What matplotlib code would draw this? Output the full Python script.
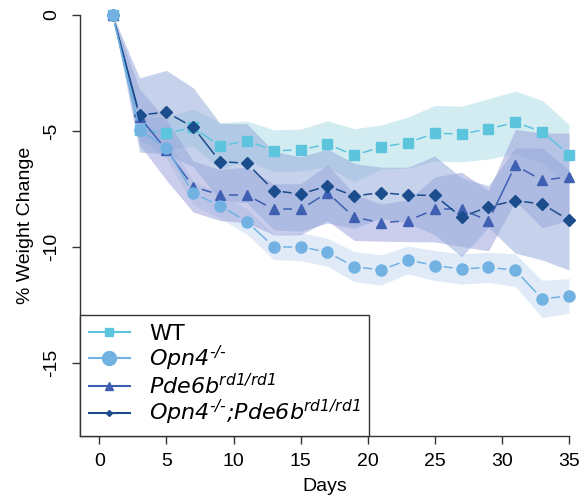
import numpy as np
import matplotlib
matplotlib.use('Agg')
import matplotlib.pyplot as plt
from matplotlib.collections import LineCollection
from matplotlib.lines import Line2D

plt.rcParams['font.family'] = ['Liberation Sans', 'DejaVu Sans']
plt.rcParams['mathtext.fontset'] = 'custom'
plt.rcParams['mathtext.rm'] = 'DejaVu Sans:italic'
plt.rcParams['mathtext.it'] = 'DejaVu Sans:italic'

# data (mean % weight change and s.e.m.)
days = [1, 3, 5, 7, 9, 11, 13, 15, 17, 19, 21, 23, 25, 27, 29, 31, 33, 35]
wt = [0, -4.95, -5.09, -4.85, -5.65, -5.42, -5.85, -5.82, -5.56, -6.05,
      -5.69, -5.5, -5.1, -5.13, -4.91, -4.63, -5.03, -6.02]
wt_sem = [0, 0.5, 0.7, 0.8, 1.0, 0.85, 0.9, 0.9, 1.0, 1.15,
          0.95, 1.1, 1.2, 1.2, 1.3, 1.35, 1.35, 1.3]
opn4 = [0, -4.96, -5.72, -7.69, -8.22, -8.91, -9.99, -9.99, -10.23, -10.85,
        -10.99, -10.56, -10.8, -10.95, -10.88, -11.0, -12.24, -12.11]
opn4_sem = [0, 0.4, 0.45, 0.5, 0.55, 0.55, 0.55, 0.6, 0.6, 0.65,
            0.65, 0.6, 0.65, 0.65, 0.65, 0.7, 0.8, 0.75]
pde = [0, -4.4, -5.82, -7.4, -7.76, -7.76, -8.38, -8.38, -7.66, -8.72,
       -8.95, -8.87, -8.38, -8.38, -8.87, -6.48, -7.13, -6.97]
pde_sem = [0, 1.2, 1.3, 1.1, 1.1, 1.2, 1.1, 1.1, 1.2, 1.0,
           0.8, 0.9, 1.4, 1.6, 1.3, 1.55, 2.04, 1.88]
dko = [0, -4.31, -4.19, -4.84, -6.32, -6.39, -7.57, -7.72, -7.37, -7.8,
       -7.66, -7.76, -7.78, -8.72, -8.26, -8.0, -8.15, -8.84]
dko_sem = [0, 1.6, 1.8, 1.7, 1.65, 1.7, 1.7, 1.6, 1.6, 1.4,
           1.1, 1.2, 1.7, 1.7, 0.9, 2.27, 2.41, 2.16]

labels = ['WT', r'Opn4$^{\text{-/-}}$', r'Pde6b$^{\text{rd1/rd1}}$',
          r'Opn4$^{\text{-/-}}$;Pde6b$^{\text{rd1/rd1}}$']

fig = plt.figure(figsize=(5.86, 4.99), dpi=100)
ax = fig.add_axes([80/586, 63/499, 489/586, 421/499])
ax.set_xlim(-1.44, 35)
ax.set_ylim(-18.15, 0)

x = np.array(days)
# shaded s.e.m. bands
bands = [(wt, wt_sem, '#abdbe7'), (opn4, opn4_sem, '#c4d9f1'),
         (pde, pde_sem, '#9a9fda'), (dko, dko_sem, '#93a9da')]
for m, s, c in bands:
    m = np.array(m); s = np.array(s)
    ax.fill_between(x, m - s, m + s, color=c, alpha=0.52, lw=0)


def gapped_line(ax, x, y, color, gap=9):
    # R type="b": line segments that stop short of the points
    pts = ax.transData.transform(np.column_stack([x, y]))
    inv = ax.transData.inverted()
    segs = []
    for p0, p1 in zip(pts[:-1], pts[1:]):
        d = p1 - p0
        L = np.hypot(*d)
        if L <= 2 * gap:
            continue
        u = d / L
        segs.append(inv.transform([p0 + u * gap, p1 - u * gap]))
    ax.add_collection(LineCollection(segs, colors=color, lw=1.1))


series = [(wt, '#5cc4dc', 's', 6.5),
          (pde, '#3f5fb2', '^', 7.5),
          (dko, '#1b4c8b', 'D', 6.5),
          (opn4, '#72b2e3', 'o', 8)]
for y, c, mk, ms in series:
    gapped_line(ax, x, y, c)
    ax.plot(x, y, ls='none', marker=mk, ms=ms, color=c, mec=c, clip_on=False)

for side in ['top', 'right']:
    ax.spines[side].set_visible(False)
for side in ['left', 'bottom']:
    ax.spines[side].set_color('#333333')
    ax.spines[side].set_linewidth(1.0)

ax.set_xticks(range(0, 36, 5))
ax.set_yticks([0, -5, -10, -15])
ax.tick_params(direction='out', length=6, width=1, color='#333333', labelsize=14)
ax.tick_params(axis='x', pad=6)
ax.tick_params(axis='y', pad=8)
ax.set_yticklabels(['0', '-5', '-10', '-15'], rotation=90, va='center')
ax.set_xlabel('Days', fontsize=14, labelpad=6)
ax.set_ylabel('% Weight Change', fontsize=14, labelpad=7)

handles = [Line2D([], [], color='#5cc4dc', marker='s', ms=6, lw=1.5),
           Line2D([], [], color='#72b2e3', marker='o', ms=10, lw=1.5),
           Line2D([], [], color='#3f5fb2', marker='^', ms=6, lw=1.5),
           Line2D([], [], color='#1b4c8b', marker='D', ms=3, lw=1.5)]
leg = ax.legend(handles, labels, loc='lower left', bbox_to_anchor=(0, 0),
                borderaxespad=0, fancybox=False, framealpha=1,
                prop={'family': 'DejaVu Sans', 'size': 16, 'style': 'italic'},
                handlelength=1.85, handletextpad=0.85, labelspacing=0.0,
                borderpad=0.4, edgecolor='#333333')
leg.get_texts()[0].set_fontstyle('normal')
leg.get_frame().set_linewidth(1.0)

fig.savefig('out.png', dpi=100, facecolor='white')
